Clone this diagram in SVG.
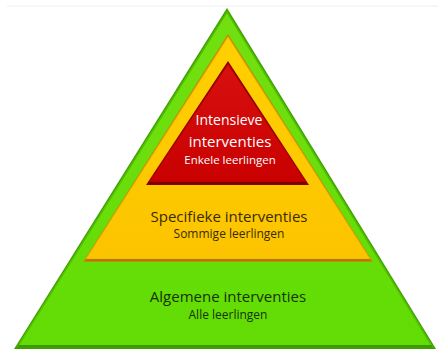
<svg xmlns="http://www.w3.org/2000/svg" width="438" height="351" viewBox="0 0 438 351">
  <defs>
    <linearGradient id="gG" x1="0" y1="0" x2="0" y2="1">
      <stop offset="0" stop-color="#72e010"/>
      <stop offset="1" stop-color="#62dc04"/>
    </linearGradient>
    <linearGradient id="gY" x1="0" y1="0" x2="0" y2="1">
      <stop offset="0" stop-color="#ffd000"/>
      <stop offset="1" stop-color="#fcc400"/>
    </linearGradient>
    <linearGradient id="gR" x1="0" y1="0" x2="0" y2="1">
      <stop offset="0" stop-color="#d81010"/>
      <stop offset="1" stop-color="#c80000"/>
    </linearGradient>
  </defs>
  <style>
    text { font-family: "Open Sans", "Liberation Sans", sans-serif; text-anchor: middle; }
    .w { fill: #ffffff; }
    .y { fill: #3a2a00; }
    .g { fill: #163300; }
  </style>
  <line x1="7" y1="6" x2="438" y2="6" stroke="#eeeeee" stroke-width="1"/>
  <g id="algemeen">
    <polygon points="227,8 436,349 14,349" fill="#3f9e00"/>
    <polygon points="227,12 432,346 18,346" fill="url(#gG)" stroke="#52c000" stroke-width="1.5"/>
    <line x1="18" y1="346" x2="432" y2="346" stroke="#3a9a00" stroke-width="2"/>
    <text class="g" x="228" y="302" font-size="15">Algemene interventies</text>
    <text class="g" x="228" y="319" font-size="12">Alle leerlingen</text>
  </g>
  <g id="specifiek">
    <polygon points="228,34 373,262 83,262" fill="#c48a00"/>
    <polygon points="228,37 370,259 86,259" fill="url(#gY)" stroke="#f0b800" stroke-width="1"/>
    <line x1="86" y1="260" x2="370" y2="260" stroke="#b07a00" stroke-width="2"/>
    <text class="y" x="229" y="222" font-size="15">Specifieke interventies</text>
    <text class="y" x="229" y="238" font-size="12">Sommige leerlingen</text>
  </g>
  <g id="intensief">
    <polygon points="228,61 309,185 146,185" fill="#8a0000"/>
    <polygon points="228,64 306,182 149,182" fill="url(#gR)" stroke="#b00000" stroke-width="1"/>
    <line x1="149" y1="183" x2="306" y2="183" stroke="#7a0000" stroke-width="2"/>
    <text class="w" x="229" y="125" font-size="14">Intensieve</text>
    <text class="w" x="230" y="147" font-size="15">interventies</text>
    <text class="w" x="230" y="164" font-size="11.5">Enkele leerlingen</text>
  </g>
</svg>
